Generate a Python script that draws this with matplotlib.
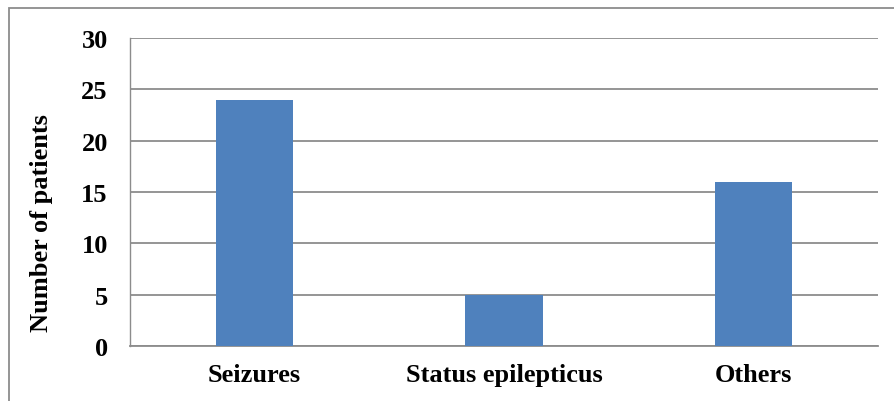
import matplotlib.pyplot as plt
from matplotlib.patches import Rectangle

categories = ["Seizures", "Status epilepticus", "Others"]
patients = [24, 5, 16]
yticks = [0, 5, 10, 15, 20, 25, 30]

plt.rcParams['font.family'] = ['Liberation Serif', 'DejaVu Serif']
plt.rcParams['font.weight'] = 'bold'

W, H = 895, 402
fig = plt.figure(figsize=(W / 100, H / 100), dpi=100)

# outer frame (right and bottom edges run off the page)
fig.patches.append(Rectangle((9 / W, -0.1), 1.2, 1 - 9 / H + 0.1,
                             transform=fig.transFigure, fill=False,
                             edgecolor='#8c8c8c', linewidth=1.3))

ax = fig.add_axes([130 / W, 1 - 347 / H, (878 - 130) / W, (347 - 39) / H])

x = range(len(categories))
ax.bar(x, patients, width=0.31, color='#4f81bd', zorder=3)
ax.set_xlim(-0.5, len(categories) - 0.5)
ax.set_ylim(0, 30)
ax.set_yticks(yticks)
ax.set_xticks(list(x))
ax.set_xticklabels(categories)
ax.grid(axis='y', color='#8c8c8c', linewidth=1.3, zorder=0)

for s in ['top', 'right']:
    ax.spines[s].set_visible(False)
ax.spines['left'].set_color('#8c8c8c')
ax.spines['left'].set_linewidth(1.0)
ax.spines['bottom'].set_color('#8c8c8c')
ax.spines['bottom'].set_linewidth(1.3)

ax.tick_params(axis='both', length=0, labelsize=19)
ax.tick_params(axis='y', pad=16)
ax.tick_params(axis='x', pad=12)
for lbl in ax.get_xticklabels() + ax.get_yticklabels():
    lbl.set_fontweight('bold')

ax.set_ylabel("Number of patients", fontsize=19, fontweight='bold')
ax.yaxis.set_label_coords(-0.103, 0.403)

fig.savefig("out.png", dpi=100)
